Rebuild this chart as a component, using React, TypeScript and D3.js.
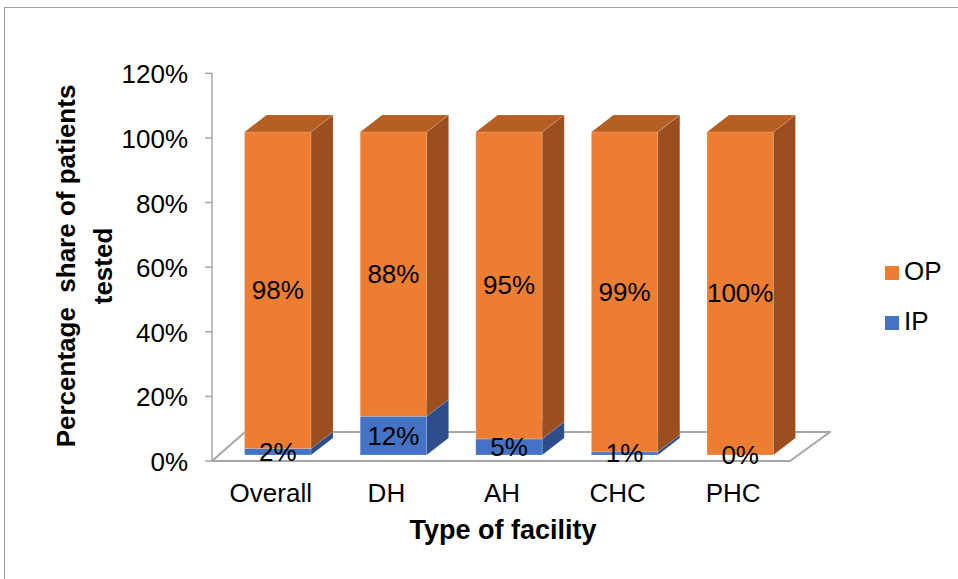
import React from "react";
import * as d3 from "d3";

const categories = ["Overall", "DH", "AH", "CHC", "PHC"];
const opValues = [0.98, 0.88, 0.95, 0.99, 1.0];
const ipValues = [0.02, 0.12, 0.05, 0.01, 0.0];
const yTicks = [0, 0.2, 0.4, 0.6, 0.8, 1.0, 1.2];
const seriesNames = ["OP", "IP"];

const W = 958;
const H = 579;
const FONT = "'Liberation Sans', Arial, Helvetica, sans-serif";
const FS = 26;

const colors = {
  OP: { front: "#ED7D31", side: "#9B4F1F", top: "#B55F24" },
  IP: { front: "#4472C4", side: "#2D4E8A", top: "#36609F" },
};

export default function App() {
  const x = d3.scaleBand<string>().domain(categories).range([212, 790]).padding(0);
  const yAxis = d3.scaleLinear().domain([0, 1.2]).range([461, 73.3]);
  const floorInset = 6;
  const yBar = d3
    .scaleLinear()
    .domain([0, 1.2])
    .range([yAxis(0) - floorInset, yAxis(1.2) - floorInset]);
  const fmt = d3.format(".0%");

  const floorDy = 29;
  const floorDxL = 33;
  const floorDxR = 40;
  const [fx0, fx1] = x.range();
  const fy = yAxis(0);

  const barW = x.bandwidth() * 0.575;
  const depthShift = 8;
  const bdx = 22;
  const bdy = 17;

  const bars: any[] = [];
  const labels: any[] = [];
  categories.forEach((c, i) => {
    const cx = (x(c) as number) + x.bandwidth() / 2 + depthShift;
    const bx = cx - barW / 2;
    const segs = [
      { name: "IP", v0: 0, v1: ipValues[i] },
      { name: "OP", v0: ipValues[i], v1: ipValues[i] + opValues[i] },
    ];
    segs.forEach((s) => {
      const col = (colors as any)[s.name];
      const yb = yBar(s.v0);
      const yt = yBar(s.v1);
      if (s.v1 - s.v0 > 0) {
        bars.push(
          <g key={`${c}-${s.name}`}>
            <rect x={bx} y={yt} width={barW} height={yb - yt} fill={col.front}
              stroke="#ffffff" strokeOpacity={0.3} strokeWidth={0.8} />
            <polygon
              points={`${bx + barW},${yb} ${bx + barW + bdx},${yb - bdy} ${bx + barW + bdx},${yt - bdy} ${bx + barW},${yt}`}
              fill={col.side} stroke="#ffffff" strokeOpacity={0.25} strokeWidth={0.6} />
            <polygon
              points={`${bx},${yt} ${bx + bdx},${yt - bdy} ${bx + barW + bdx},${yt - bdy} ${bx + barW},${yt}`}
              fill={col.top} stroke="#ffffff" strokeOpacity={0.25} strokeWidth={0.6} />
          </g>
        );
      }
      const val = s.name === "IP" ? ipValues[i] : opValues[i];
      labels.push(
        <text key={`l-${c}-${s.name}`} x={cx} y={(yb + yt) / 2 + 9} textAnchor="middle"
          fontFamily={FONT} fontSize={FS} fill="#000">
          {fmt(val)}
        </text>
      );
    });
  });

  return (
    <svg width={W} height={H} style={{ position: "absolute", left: 0, top: 0, background: "#fff" }}>
      <rect x={4.5} y={7.5} width={1000} height={700} fill="#fff" stroke="#A0A0A0" strokeWidth={1} />

      {/* floor */}
      <polygon
        points={`${fx0},${fy} ${fx1},${fy} ${fx1 + floorDxR},${fy - floorDy} ${fx0 + floorDxL},${fy - floorDy}`}
        fill="#fff" stroke="#A6A6A6" strokeWidth={2} strokeLinejoin="round" />

      {/* y axis */}
      <line x1={fx0} x2={fx0} y1={yAxis(1.2)} y2={yAxis(0)} stroke="#A6A6A6" strokeWidth={1.5} />
      {yTicks.map((t) => (
        <g key={t}>
          <line x1={fx0 - 7} x2={fx0} y1={yAxis(t)} y2={yAxis(t)} stroke="#A6A6A6" strokeWidth={1.5} />
          <text x={188} y={yAxis(t) + 10} textAnchor="end" fontFamily={FONT} fontSize={FS} fill="#000">
            {fmt(t)}
          </text>
        </g>
      ))}

      {bars}
      {labels}

      {/* category labels */}
      {categories.map((c) => (
        <text key={c} x={(x(c) as number) + x.bandwidth() / 2 + 1} y={502} textAnchor="middle"
          fontFamily={FONT} fontSize={FS} fill="#000">
          {c}
        </text>
      ))}

      <text x={(fx0 + fx1) / 2 + 2} y={539} textAnchor="middle" fontFamily={FONT} fontSize={27}
        fontWeight="bold" fill="#000">
        Type of facility
      </text>

      <g transform="translate(75,266) rotate(-90)">
        <text x={0} y={0} textAnchor="middle" fontFamily={FONT} fontSize={FS} fontWeight="bold" fill="#000"
          style={{ whiteSpace: "pre" }} xmlSpace="preserve">
          {"Percentage  share of patients"}
        </text>
        <text x={0} y={37} textAnchor="middle" fontFamily={FONT} fontSize={FS} fontWeight="bold" fill="#000">
          tested
        </text>
      </g>

      {/* legend */}
      {seriesNames.map((s, i) => (
        <g key={s} transform={`translate(885,${266 + i * 50})`}>
          <rect x={0} y={0} width={14} height={14} fill={(colors as any)[s].front} />
          <text x={19} y={14} fontFamily={FONT} fontSize={FS} fill="#000">
            {s}
          </text>
        </g>
      ))}
    </svg>
  );
}
